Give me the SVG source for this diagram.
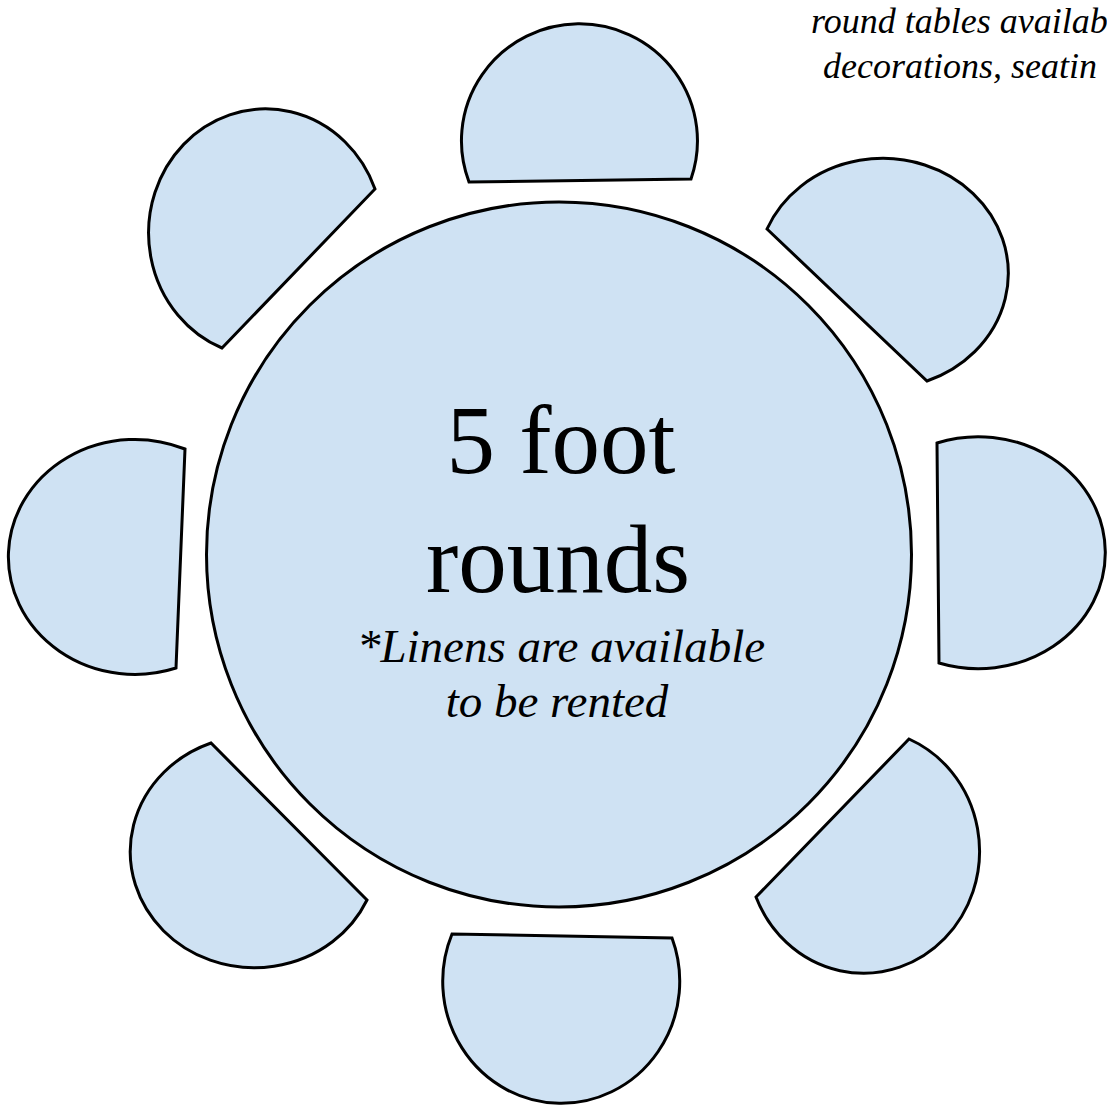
<svg xmlns="http://www.w3.org/2000/svg" width="1107" height="1108" viewBox="0 0 1107 1108">
<style>
.chair{fill:#cfe2f3;stroke:#000;stroke-width:3;stroke-linejoin:miter}
.tbl{fill:#cfe2f3;stroke:#000;stroke-width:3}
.big{font-family:"Liberation Serif","Times New Roman",serif;font-size:97px;fill:#000;text-anchor:middle}
.note{font-family:"Liberation Serif","Times New Roman",serif;font-style:italic;font-size:47px;fill:#000;text-anchor:middle}
.top{font-family:"Liberation Serif","Times New Roman",serif;font-style:italic;font-size:36px;fill:#000}
</style>
<rect width="1107" height="1108" fill="#fff"/>
<g id="chair-top"><path class="chair" d="M469,182 A118,117 0 1 1 691,179 Z"/></g>
<g id="chair-top-right"><path class="chair" d="M767,229 A125.5,115 0 1 1 927,381 Z"/></g>
<g id="chair-right"><path class="chair" d="M937,443 A127,116 0 1 1 939,663 Z"/></g>
<g id="chair-bottom-right"><path class="chair" d="M909,739 A116,122 0 1 1 756,897 Z"/></g>
<g id="chair-bottom"><path class="chair" d="M672,938 A118.5,122 0 1 1 452,934 Z"/></g>
<g id="chair-bottom-left"><path class="chair" d="M367,900 A124,116 0 1 1 211,743 Z"/></g>
<g id="chair-left"><path class="chair" d="M176,668 A126.5,117.5 0 1 1 185,449 Z"/></g>
<g id="chair-top-left"><path class="chair" d="M222,348 A117,124 0 1 1 375,189 Z"/></g>
<g id="table">
<circle class="tbl" cx="559" cy="554.5" r="352.5"/>
<text class="big" x="561" y="473">5 foot</text>
<text class="big" x="558" y="592">rounds</text>
<text class="note" x="561" y="662">*Linens are available</text>
<text class="note" x="557" y="717">to be rented</text>
</g>
<g id="caption">
<text class="top" x="811" y="33">round tables availab</text>
<text class="top" x="823" y="78">decorations, seatin</text>
</g>
<g id="connectors"/>
</svg>
